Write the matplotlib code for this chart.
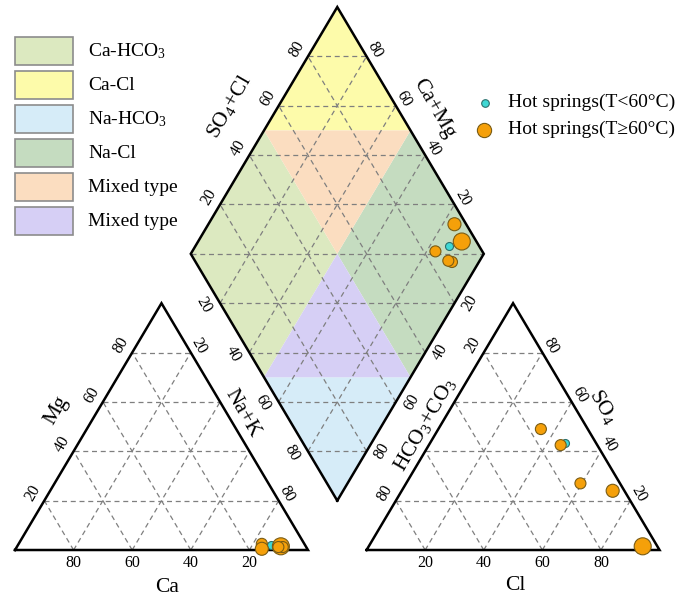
import numpy as np
import matplotlib.pyplot as plt
from matplotlib.patches import Polygon, Rectangle

plt.rcParams['font.family'] = ['Liberation Serif', 'DejaVu Serif']
plt.rcParams['mathtext.fontset'] = 'custom'
plt.rcParams['mathtext.rm'] = 'Liberation Serif'
plt.rcParams['mathtext.it'] = 'Liberation Serif:italic'

# Hot springs T >= 60 C (meq %)
hot_ca = [14.5, 15.5, 8.5, 8.0, 9.5]
hot_mg = [2.5, 0.5, 1.5, 1.2, 1.2]
hot_nak = [83.0, 84.0, 90.0, 90.8, 89.3]
hot_so4 = [49.0, 24.0, 1.5, 42.5, 27.0]
hot_cl = [35.0, 72.0, 93.5, 45.0, 59.5]
hot_hco3 = [16.0, 4.0, 5.0, 12.5, 13.5]
hot_size = [63, 88, 150, 63, 63]

# Hot springs T < 60 C
warm_ca = [11.5]
warm_mg = [2.0]
warm_nak = [86.5]
warm_so4 = [43.5]
warm_cl = [46.0]
warm_hco3 = [10.5]
warm_size = [33]

ticks = [20, 40, 60, 80]

facies = ['Ca-HCO$_3$', 'Ca-Cl', 'Na-HCO$_3$', 'Na-Cl', 'Mixed type', 'Mixed type']
facies_colors = ['#dce9c0', '#fdfbaa', '#d6ecf8', '#c5dcc0', '#fbddc0', '#d6cff5']

GAP = 20
H = np.sqrt(3) / 2


def cat_xy(na, mg):
    na, mg = np.asarray(na), np.asarray(mg)
    return na + mg / 2, mg * H


def an_xy(cl, so4):
    cl, so4 = np.asarray(cl), np.asarray(so4)
    return 100 + GAP + cl + so4 / 2, so4 * H


def dia_xy(cm, sc):
    # cm = Ca+Mg %, sc = SO4+Cl %
    cm, sc = np.asarray(cm), np.asarray(sc)
    return 100 + GAP / 2 + 0.5 * (sc - cm), GAP * H + H * (cm + sc)


fig = plt.figure(figsize=(6.78, 5.98), dpi=100)
ax = fig.add_axes([0, 0, 1, 1])
ax.set_xlim(-5.12, 226.3)
ax.set_ylim(-16.84, 193.0)
ax.axis('off')

# facies areas in the diamond
T, L, R, B = (100, 100), (100, 0), (0, 100), (0, 0)
C, UL, UR, LL, LR = (50, 50), (100, 50), (50, 100), (50, 0), (0, 50)
regions = [[L, UL, C, LL], [T, UL, UR], [B, LL, LR], [R, UR, C, LR], [UL, UR, C], [LL, LR, C]]
for pts, col in zip(regions, facies_colors):
    xy = np.column_stack(dia_xy([p[0] for p in pts], [p[1] for p in pts]))
    ax.add_patch(Polygon(xy, closed=True, fc=col, ec='none', zorder=1))

grid_kw = dict(color='#7f7f7f', lw=0.9, ls=(0, (4, 3)), zorder=2)


def seg(f, a, b):
    x, y = f([a[0], b[0]], [a[1], b[1]])
    ax.plot(x, y, **grid_kw)


for k in ticks:
    # cation triangle
    seg(cat_xy, (0, k), (100 - k, k))
    seg(cat_xy, (k, 0), (k, 100 - k))
    seg(cat_xy, (100 - k, 0), (0, 100 - k))
    # anion triangle
    seg(an_xy, (0, k), (100 - k, k))
    seg(an_xy, (k, 0), (k, 100 - k))
    seg(an_xy, (100 - k, 0), (0, 100 - k))
    # diamond
    seg(dia_xy, (k, 0), (k, 100))
    seg(dia_xy, (0, k), (100, k))
for s in range(20, 200, 20):
    if s <= 100:
        seg(dia_xy, (s, 0), (0, s))
    else:
        seg(dia_xy, (100, s - 100), (s - 100, 100))

# outlines
out_kw = dict(color='black', lw=1.8, zorder=3, solid_joinstyle='miter')
x, y = cat_xy([0, 100, 0, 0], [0, 0, 100, 0])
ax.plot(x, y, **out_kw)
x, y = an_xy([0, 100, 0, 0], [0, 0, 100, 0])
ax.plot(x, y, **out_kw)
x, y = dia_xy([0, 100, 100, 0, 0], [0, 0, 100, 100, 0])
ax.plot(x, y, **out_kw)

# tick labels
tk = dict(fontsize=11.5, ha='center', va='center', textcoords='offset points')
for k in ticks:
    ax.annotate(str(k), cat_xy(100 - k, 0), xytext=(0, -9.5), **tk)
    ax.annotate(str(k), cat_xy(0, k), xytext=(-8, 5.2), rotation=60, **tk)
    ax.annotate(str(k), an_xy(k, 0), xytext=(0, -9.5), **tk)
    ax.annotate(str(k), an_xy(100 - k, k), xytext=(6, 5), rotation=-60, **tk)
    ax.annotate(str(k), dia_xy(100, k), xytext=(-8, 5.2), rotation=60, **tk)
    ax.annotate(str(k), dia_xy(k, 100), xytext=(6, 5), rotation=-60, **tk)
    ax.annotate(str(k), dia_xy(100 - k, 0), xytext=(-11.5, -1), rotation=-60, **tk)
    ax.annotate(str(k), dia_xy(0, 100 - k), xytext=(11.2, 0), rotation=60, **tk)
for k in [20, 80]:
    ax.annotate(str(k), cat_xy(k, 100 - k), xytext=(6, 5), rotation=-60, **tk)
    ax.annotate(str(k), an_xy(0, 100 - k), xytext=(-8, 5.2), rotation=60, **tk)

# axis titles
tt = dict(fontsize=15.5, ha='center', va='center')
ax.text(52.0, -13.3, 'Ca', **tt)
ax.text(170.6, -12.6, 'Cl', **tt)
ax.text(14.3, 49.1, 'Mg', rotation=60, **tt)
ax.text(77.6, 48.0, 'Na+K', rotation=-60, **tt)
ax.text(139.9, 43.9, 'HCO$_3$+CO$_3$', rotation=60, **tt)
ax.text(200.8, 50.3, 'SO$_4$', rotation=-60, **tt)
ax.text(73.0, 155.5, 'SO$_4$+Cl', rotation=60, **tt)
ax.text(142.8, 155.0, 'Ca+Mg', rotation=-60, **tt)

# samples
warm_kw = dict(c='#3fd8d4', edgecolors='#2b6f6c', linewidths=0.8, zorder=4)
hot_kw = dict(c='#f5a00a', edgecolors='#7a5c14', linewidths=0.8, zorder=5)
for xs, kw, sz in [
    (dict(ca=warm_ca, mg=warm_mg, na=warm_nak, so4=warm_so4, cl=warm_cl), warm_kw, warm_size),
    (dict(ca=hot_ca, mg=hot_mg, na=hot_nak, so4=hot_so4, cl=hot_cl), hot_kw, hot_size),
]:
    ax.scatter(*cat_xy(xs['na'], xs['mg']), s=sz, **kw)
    ax.scatter(*an_xy(xs['cl'], xs['so4']), s=sz, **kw)
    cm = np.asarray(xs['ca']) + np.asarray(xs['mg'])
    sc = np.asarray(xs['so4']) + np.asarray(xs['cl'])
    ax.scatter(*dia_xy(cm, sc), s=sz, **kw)

# legends in pixel space
leg = fig.add_axes([0, 0, 1, 1])
leg.set_xlim(0, 678)
leg.set_ylim(598, 0)
leg.axis('off')
for i, (name, col) in enumerate(zip(facies, facies_colors)):
    top = 36.7 + 34 * i
    leg.add_patch(Rectangle((15, top), 58, 28.5, fc=col, ec='#8c8c8c', lw=1.2))
    leg.text(88, top + 14.5, name, fontsize=14, va='center', ha='left')

leg.scatter([485], [103], s=30, c='#3fd8d4', edgecolors='#2b6f6c', linewidths=0.8)
leg.text(508, 102, 'Hot springs(T<60°C)', fontsize=14, va='center', ha='left')
leg.scatter([484], [130], s=105, c='#f5a00a', edgecolors='#7a5c14', linewidths=0.8)
leg.text(508, 129, 'Hot springs(T≥60°C)', fontsize=14, va='center', ha='left')

fig.savefig('out.png', dpi=100)
